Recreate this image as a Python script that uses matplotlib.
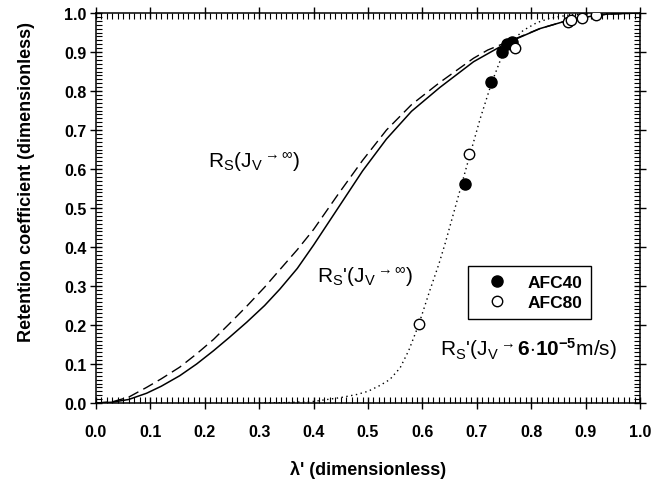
import numpy as np
import matplotlib
matplotlib.use('Agg')
import matplotlib.pyplot as plt
from matplotlib.ticker import MultipleLocator, FormatStrFormatter

plt.rcParams['font.family'] = ['Liberation Sans', 'DejaVu Sans']
plt.rcParams['mathtext.fontset'] = 'custom'
plt.rcParams['mathtext.rm'] = 'Liberation Sans'
plt.rcParams['mathtext.it'] = 'Liberation Sans:italic'
plt.rcParams['mathtext.bf'] = 'Liberation Sans:bold'

# R_S (J_V -> inf), dashed curve
rs_lam = [0.0, 0.03, 0.06, 0.093, 0.12, 0.154, 0.185, 0.216, 0.245, 0.277, 0.31, 0.338,
          0.37, 0.40, 0.445, 0.49, 0.534, 0.58, 0.632, 0.694, 0.72, 0.755, 0.816,
          0.877, 0.939, 1.0]
rs_val = [0.0, 0.003, 0.015, 0.040, 0.062, 0.092, 0.126, 0.163, 0.203, 0.248, 0.297, 0.342,
          0.393, 0.445, 0.535, 0.622, 0.700, 0.765, 0.822, 0.884, 0.905, 0.925, 0.960,
          0.985, 0.997, 1.0]

# R_S' (J_V -> inf), solid curve
rsp_lam = [0.0, 0.03, 0.06, 0.093, 0.12, 0.154, 0.185, 0.216, 0.245, 0.277, 0.31, 0.338,
           0.37, 0.40, 0.445, 0.49, 0.534, 0.58, 0.632, 0.694, 0.755, 0.816, 0.877,
           0.939, 1.0]
rsp_val = [0.0, 0.002, 0.009, 0.025, 0.043, 0.070, 0.100, 0.134, 0.168, 0.207, 0.250, 0.292,
           0.345, 0.405, 0.500, 0.595, 0.677, 0.748, 0.809, 0.875, 0.923, 0.960, 0.985,
           0.997, 1.0]

# R_S' (J_V -> 6e-5 m/s), dotted curve
dot_lam = [0.30, 0.35, 0.40, 0.43, 0.45, 0.48, 0.50, 0.522, 0.54, 0.559, 0.575, 0.593,
           0.614, 0.63, 0.642, 0.66, 0.68, 0.706, 0.727, 0.745, 0.765, 0.785, 0.81,
           0.835, 0.87, 0.92, 1.0]
dot_val = [0.0, 0.001, 0.004, 0.010, 0.014, 0.022, 0.030, 0.045, 0.060, 0.090, 0.135, 0.200,
           0.290, 0.355, 0.410, 0.500, 0.600, 0.728, 0.820, 0.885, 0.928, 0.955, 0.975,
           0.987, 0.995, 0.999, 1.0]

# measured points
afc40_x = [0.678, 0.727, 0.746, 0.755, 0.764]
afc40_y = [0.562, 0.822, 0.899, 0.921, 0.926]
afc80_x = [0.593, 0.686, 0.770, 0.868, 0.874, 0.893, 0.920]
afc80_y = [0.203, 0.638, 0.909, 0.978, 0.983, 0.986, 0.995]

fig = plt.figure(figsize=(6.67, 4.85), dpi=100)
ax = fig.add_axes([96/667, 81/485, 544/667, 390/485])

ax.plot(rs_lam, rs_val, color='black', lw=1.0, dashes=(8, 4))
ax.plot(rsp_lam, rsp_val, color='black', lw=1.1)
ax.plot(dot_lam, dot_val, color='black', lw=1.0, dashes=(1, 2.5))
ax.plot(afc40_x, afc40_y, 'o', ms=8, mfc='black', mec='black', ls='none', label='AFC40', zorder=5)
ax.plot(afc80_x, afc80_y, 'o', ms=7.5, mfc='white', mec='black', mew=1.0, ls='none', label='AFC80', zorder=5)

ax.set_xlim(0, 1)
ax.set_ylim(0, 1)
ax.xaxis.set_major_locator(MultipleLocator(0.1))
ax.yaxis.set_major_locator(MultipleLocator(0.1))
ax.xaxis.set_minor_locator(MultipleLocator(0.01))
ax.yaxis.set_minor_locator(MultipleLocator(0.01))
ax.xaxis.set_major_formatter(FormatStrFormatter('%.1f'))
ax.yaxis.set_major_formatter(FormatStrFormatter('%.1f'))
ax.tick_params(which='major', direction='inout', length=8, width=1.0,
               top=True, right=True, labelsize=11.5)
ax.tick_params(which='minor', direction='in', length=4, width=0.8, top=True, right=True)
ax.tick_params(axis='x', which='major', pad=11)
ax.tick_params(axis='y', which='major', pad=3)
for lbl in ax.get_xticklabels() + ax.get_yticklabels():
    lbl.set_fontweight('bold')
for sp in ax.spines.values():
    sp.set_linewidth(1.1)

ax.set_xlabel("\u03bb' (dimensionless)", fontsize=13, fontweight='bold', labelpad=15)
ax.set_ylabel('Retention coefficient (dimensionless)', fontsize=13, fontweight='bold')
ax.yaxis.set_label_coords(-0.112, 0.569)

ax.text(0.206, 0.605, r'R$_\mathrm{S}$(J$_\mathrm{V}{}^{\rightarrow\infty}$)', fontsize=15)
ax.text(0.406, 0.310, r"R$_\mathrm{S}$'(J$_\mathrm{V}{}^{\rightarrow\infty}$)", fontsize=15)
ax.text(0.632, 0.123, r"R$_\mathrm{S}$'(J$_\mathrm{V}{}^{\rightarrow}\mathbf{6{\cdot}10^{-5}}$m/s)", fontsize=15)

leg = ax.legend(loc='upper left', bbox_to_anchor=(0.684, 0.351), borderaxespad=0,
                fancybox=False, edgecolor='black', framealpha=1,
                prop={'weight': 'bold', 'size': 12.5}, handlelength=2.3,
                handletextpad=0.6, borderpad=0.5, labelspacing=0.3)
leg.get_frame().set_linewidth(1.0)

fig.savefig('out.png', dpi=100)
